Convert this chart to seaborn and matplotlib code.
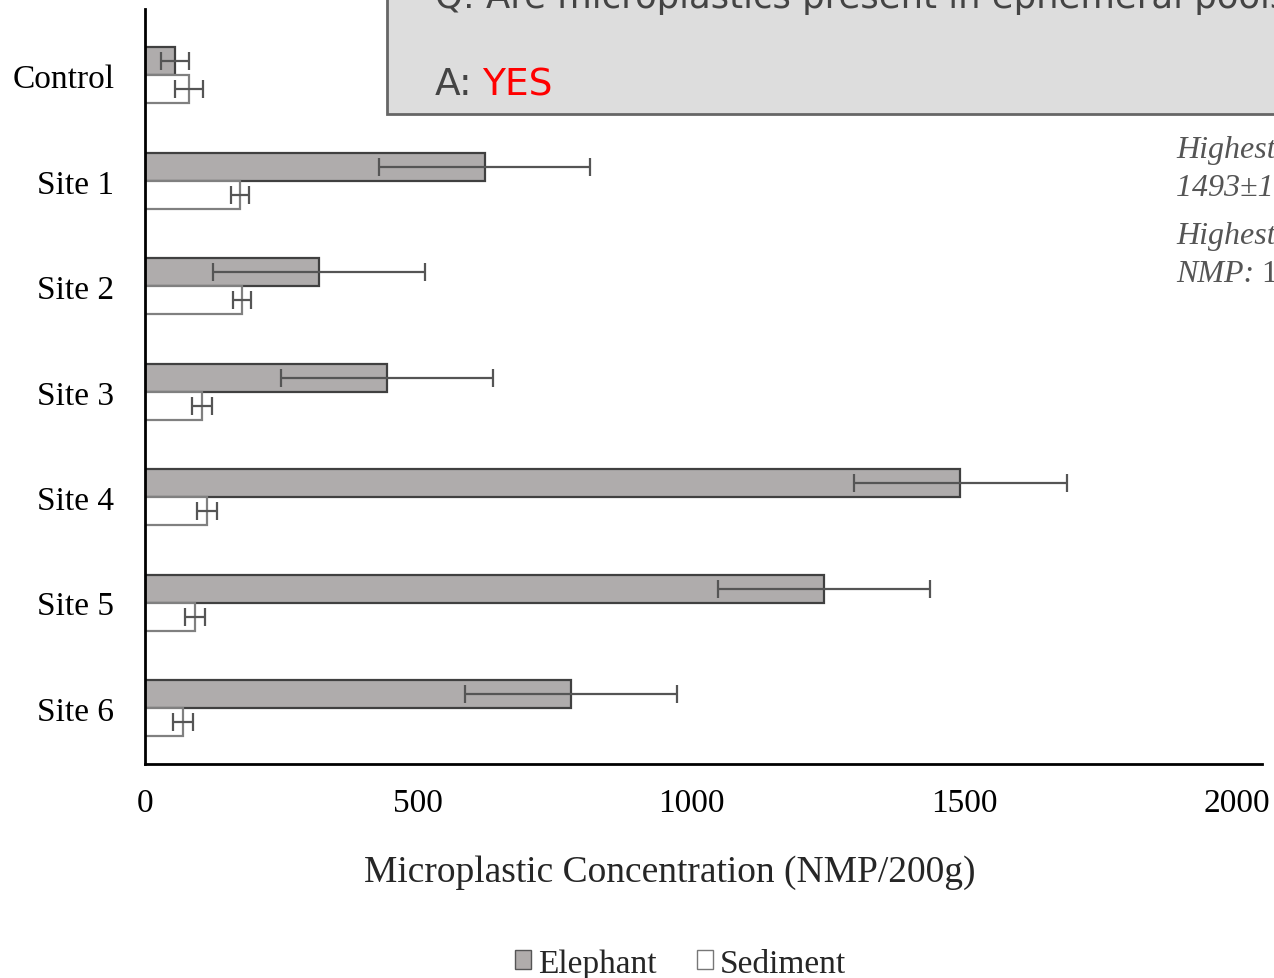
import matplotlib
matplotlib.use("Agg")
import matplotlib.pyplot as plt
from matplotlib.patches import Rectangle, Patch
import pandas as pd
import seaborn as sns

sites = ["Control", "Site 1", "Site 2", "Site 3", "Site 4", "Site 5", "Site 6"]
elephant_mean = [55, 622, 319, 444, 1493, 1243, 781]
elephant_err = [26, 194, 194, 194, 195, 194, 194]
sediment_mean = [81, 174, 178, 105, 114, 92, 70]
sediment_err = [26, 17, 17, 18, 18, 18, 18]
x_ticks = [0, 500, 1000, 1500, 2000]

sns.set_style("white")
plt.rcParams["font.family"] = ["Liberation Serif", "DejaVu Serif"]

df = pd.DataFrame({
    "site": sites * 2,
    "value": elephant_mean + sediment_mean,
    "source": ["Elephant"] * len(sites) + ["Sediment"] * len(sites),
})
errors = {"Elephant": elephant_err, "Sediment": sediment_err}

fig = plt.figure(figsize=(12.74, 9.79), dpi=100)
ax = fig.add_axes([0.1138, 0.2186, 0.8768, 0.7712])

sns.barplot(data=df, x="value", y="site", hue="source", orient="h",
            palette={"Elephant": "#b0acab", "Sediment": "#ffffff"},
            width=0.53, errorbar=None, legend=False, ax=ax)

edge = {"Elephant": "#404040", "Sediment": "#808080"}
for container, name in zip(ax.containers, ["Elephant", "Sediment"]):
    xs, ys = [], []
    for bar in container:
        bar.set_edgecolor(edge[name])
        bar.set_linewidth(1.6)
        xs.append(bar.get_width())
        ys.append(bar.get_y() + bar.get_height() / 2)
    ax.errorbar(xs, ys, xerr=errors[name], fmt="none", ecolor="#555555",
                elinewidth=1.6, capsize=6.5, capthick=1.6, zorder=5)

ax.set_xlim(0, 2046)
ax.set_ylim(6.53, -0.63)
ax.set_xticks(x_ticks)
ax.tick_params(axis="both", length=0, labelsize=24, colors="black")
ax.tick_params(axis="x", pad=17)
ax.tick_params(axis="y", pad=22)
ax.set_ylabel("")
ax.set_xlabel("Microplastic Concentration (NMP/200g)", fontsize=27)
ax.xaxis.set_label_coords(0.47, -0.12)
for side in ["top", "right"]:
    ax.spines[side].set_visible(False)
for side in ["left", "bottom"]:
    ax.spines[side].set_color("black")
    ax.spines[side].set_linewidth(2)

handles = [Patch(facecolor="#b0acab", edgecolor="#555555", label="Elephant"),
           Patch(facecolor="#ffffff", edgecolor="#777777", label="Sediment")]
fig.legend(handles=handles, loc="center", bbox_to_anchor=(0.534, 0.015), ncol=2,
           frameon=False, fontsize=24, handlelength=0.5, handleheight=0.5,
           handletextpad=0.2, columnspacing=1.2)

# Q/A box overlay
box = Rectangle((387 / 1274, 1 - 115 / 979), 0.75, 0.2, transform=fig.transFigure,
                facecolor="#dddddd", edgecolor="#666666", linewidth=2, zorder=10)
fig.patches.append(box)
fig.text(435 / 1274, 1 - 8 / 979, "Q: Are microplastics present in ephemeral pools",
         fontsize=25.5, color="#444444", va="baseline", family="DejaVu Sans", zorder=11)
fig.text(435 / 1274, 1 - 95 / 979, "A:", fontsize=27, color="#444444",
         va="baseline", family="DejaVu Sans", zorder=11)
fig.text(482 / 1274, 1 - 95 / 979, "YES", fontsize=27, color="#ff0000",
         va="baseline", family="DejaVu Sans", zorder=11)

# side notes
note = dict(fontsize=23, color="#555555", va="baseline")
fig.text(1176 / 1274, 1 - 158 / 979, "Highest elephant", style="italic", **note)
fig.text(1176 / 1274, 1 - 196 / 979, "1493\u00b1195 NMP", style="italic", **note)
fig.text(1176 / 1274, 1 - 244 / 979, "Highest sediment", style="italic", **note)
fig.text(1176 / 1274, 1 - 282 / 979, "NMP:", style="italic", **note)
fig.text(1254 / 1274, 1 - 282 / 979, " 178\u00b117", **note)

fig.savefig("out.png", dpi=100)
